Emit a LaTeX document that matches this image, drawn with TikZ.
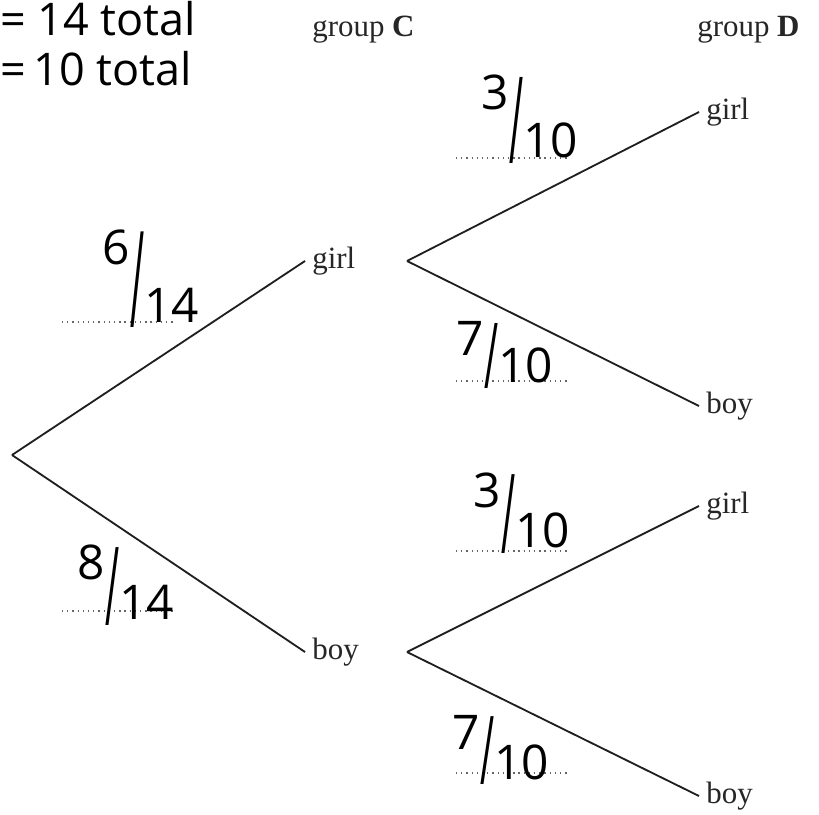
\documentclass[tikz,border=0pt]{standalone}
\usepackage{fontspec}
\setmainfont{Liberation Serif}
\newfontfamily\handfont{Open Sans}
\usetikzlibrary{positioning}
\tikzset{
  br/.style={draw=black!88,line width=1.3pt},
  lb/.style={font=\fontsize{22}{26}\selectfont,text=black!85,inner xsep=5pt,inner ysep=0pt},
  hd/.style={font=\handfont\fontsize{34}{40}\selectfont,inner sep=0pt},
  dl/.style={draw=black!60,line width=.9pt,dash pattern=on .9pt off 2.8pt},
}
% numerator up, long slash, denominator down, as written by hand
\newlength\slashht
\newcommand{\hfrac}[3][.85em]{\setlength\slashht{\dimexpr#1+.8em\relax}%
  \raisebox{#1}{#2}\raisebox{-.12em}{\resizebox{.8\width}{\slashht}{/}}#3}

\begin{document}
\begin{tikzpicture}[x=0.025cm,y=-0.025cm]
\useasboundingbox (0,0) rectangle (819,814);
% headings and totals
\node[hd,anchor=base west,font=\handfont\fontsize{32}{38}\selectfont] (t14) at (0,36) {= 14 total};
\node[hd,anchor=base west,font=\handfont\fontsize{32}{38}\selectfont] (t10) at (0,86) {=\,10 total};
\node[lb,anchor=base west] (hC) at (305,37) {group \textbf{C}};
\node[lb,anchor=base west] (hD) at (690,37) {group \textbf{D}};
% tree
\coordinate (O) at (12,455);
\node[lb,anchor=west] (Cg) at (305,261) {girl};
\node[lb,anchor=west] (Cb) at (305,652) {boy};
\coordinate (Fg) at (407,261);
\coordinate (Fb) at (407,652);
\node[lb,anchor=west] (Dgg) at (699,112) {girl};
\node[lb,anchor=west] (Dgb) at (699,406) {boy};
\node[lb,anchor=west] (Dbg) at (699,506) {girl};
\node[lb,anchor=west] (Dbb) at (699,796) {boy};
\draw[br] (O)--(Cg.west) (O)--(Cb.west);
\draw[br] (Fg)--(Dgg.west) (Fg)--(Dgb.west);
\draw[br] (Fb)--(Dbg.west) (Fb)--(Dbb.west);
% answer lines
\draw[dl] (62,322)--(175,322) (62,611)--(173,611);
\draw[dl] (456,158)--(567,158) (456,381)--(567,381);
\draw[dl] (456,551)--(567,551) (456,773)--(567,773);
% written answers
\node[hd] (p1) at (151,279) {\hfrac[1.2em]{6}{14}};
\node[hd] (p2) at (126,585) {\hfrac[.83em]{8}{14}};
\node[hd] (p3) at (530,119) {\hfrac[1em]{3}{10}};
\node[hd] (p4) at (505,355) {\hfrac[.56em]{7}{10}};
\node[hd] (p5) at (522,513) {\hfrac[.85em]{3}{10}};
\node[hd] (p6) at (501,750) {\hfrac[.62em]{7}{10}};
\end{tikzpicture}
\end{document}
